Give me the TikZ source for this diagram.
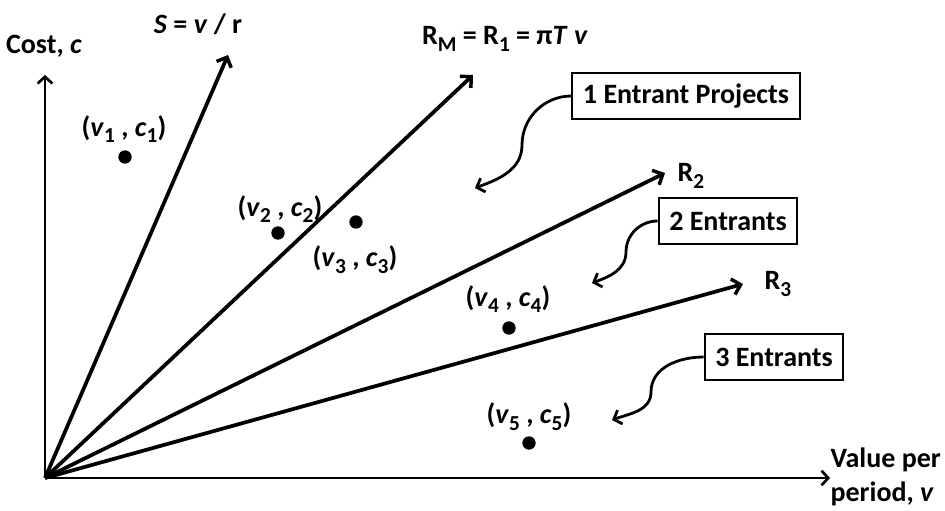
\documentclass[tikz,border=0pt]{standalone}
\usepackage{fontspec}
\setmainfont{Carlito}
\usetikzlibrary{arrows.meta}
\tikzset{
  ray/.style={line width=2.8pt,-{Straight Barb[length=6pt,width=12pt,line width=2.6pt]}},
  axis/.style={line width=2pt,-{Straight Barb[length=5pt,width=11pt,line width=2pt]}},
  curv/.style={line width=2.1pt,-{Straight Barb[length=5pt,width=11pt,line width=2.1pt]}},
  dot/.style={circle,fill=black,inner sep=0pt,minimum size=10pt},
  lbl/.style={inner sep=1pt,font=\fontsize{21}{25}\selectfont\bfseries},
  tbox/.style={draw,line width=1.4pt,inner xsep=8pt,inner ysep=0pt,minimum height=35pt,font=\fontsize{21}{25}\selectfont\bfseries}
}
\newcommand\mysub[1]{\raisebox{-5pt}{\fontsize{16}{16}\selectfont #1}}
\begin{document}
\begin{tikzpicture}[x=0.75pt,y=0.75pt]
\useasboundingbox (0,0) rectangle (945,510);
\coordinate (O) at (45,32);
\coordinate (Ytip) at (45,435);
\coordinate (Xtip) at (830,32);
\coordinate (Stip) at (228,455);
\coordinate (RMtip) at (473,435);
\coordinate (R2tip) at (665,337);
\coordinate (R3tip) at (743,226);
% axes
\draw[axis] (O) -- (Ytip);
\draw[axis] (O) -- (Xtip);
% rays
\draw[ray] (O) -- (Stip);
\draw[ray] (O) -- (RMtip);
\draw[ray] (O) -- (R2tip);
\draw[ray] (O) -- (R3tip);
% axis and ray labels
\node[lbl] (ylab) at (44,464) {Cost, \textit{c}};
\node[lbl,anchor=west,align=left] (xlab) at (829,33) {Value per\\period, \textit{v}};
\node[lbl] (slab) at (198,486) {\textit{S} = \textit{v} / r};
\node[lbl] (rmlab) at (505,471) {R\mysub{M} = R\mysub{1} = π\textit{T} \textit{v}};
\node[lbl,anchor=west] (r2lab) at (676,334) {R\mysub{2}};
\node[lbl,anchor=west] (r3lab) at (763,226) {R\mysub{3}};
% points
\node[dot] (p1) at (125,353) {};
\node[dot] (p2) at (278,277) {};
\node[dot] (p3) at (356,288) {};
\node[dot] (p4) at (509,182) {};
\node[dot] (p5) at (529,67) {};
\node[lbl] (l1) at (124,381) {(\textit{v}\mysub{1} , \textit{c}\mysub{1})};
\node[lbl] (l2) at (280,301) {(\textit{v}\mysub{2} , \textit{c}\mysub{2})};
\node[lbl] (l3) at (355,250) {(\textit{v}\mysub{3} , \textit{c}\mysub{3})};
\node[lbl] (l4) at (508,211) {(\textit{v}\mysub{4} , \textit{c}\mysub{4})};
\node[lbl] (l5) at (529,93) {(\textit{v}\mysub{5} , \textit{c}\mysub{5})};
% boxes
\node[tbox] (b1) at (686,414) {1 Entrant Projects};
\node[tbox] (b2) at (728,289) {2 Entrants};
\node[tbox] (b3) at (774,153) {3 Entrants};
\coordinate (m1) at (522,365);
\coordinate (t1) at (475,322);
\coordinate (m2) at (626,258);
\coordinate (t2) at (592,227);
\coordinate (m3) at (651,118);
\coordinate (t3) at (612,90);
\draw[curv] (b1.west) to[out=180,in=90] (m1) to[out=-90,in=20] (t1);
\draw[curv] (b2.west) to[out=180,in=90] (m2) to[out=-90,in=20] (t2);
\draw[curv] (b3.west) to[out=180,in=90] (m3) to[out=-90,in=20] (t3);
\end{tikzpicture}
\end{document}
